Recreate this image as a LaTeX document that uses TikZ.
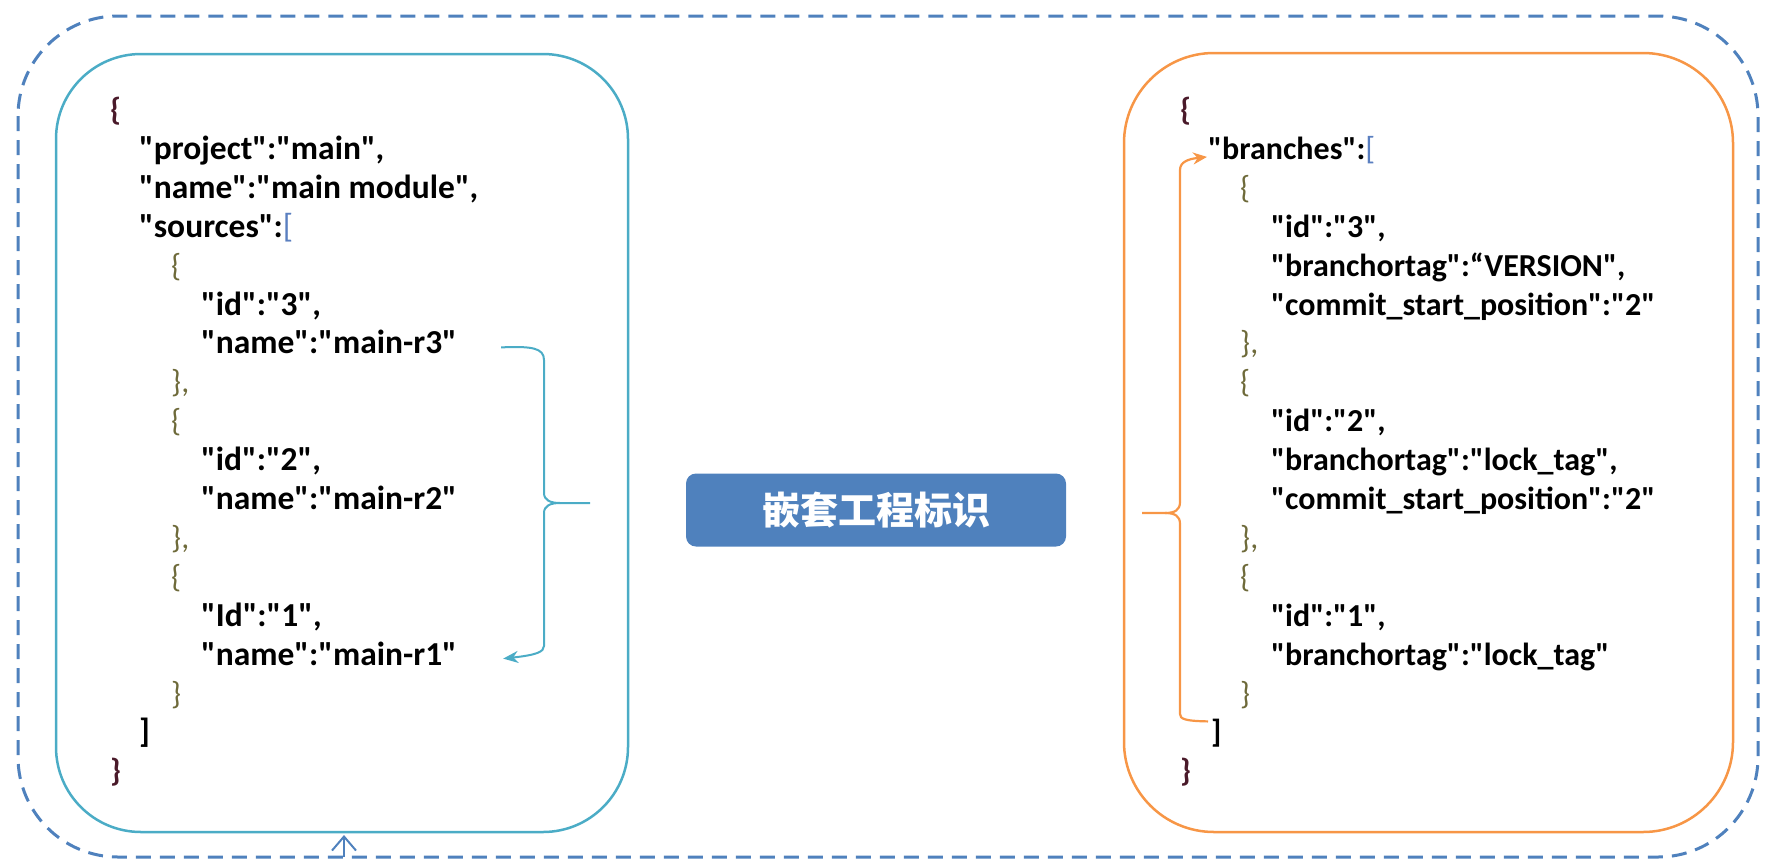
\documentclass[tikz,border=0pt]{standalone}
\usepackage{fontspec}
\setmainfont{Carlito}[Ligatures=TeXOff]
\newfontfamily\cjk{Noto Sans CJK SC}
\usetikzlibrary{arrows.meta,calc}
\definecolor{outerblue}{HTML}{4F81BD}
\definecolor{tealc}{HTML}{4BACC6}
\definecolor{orangec}{HTML}{F79646}
\definecolor{bracec}{HTML}{6E6A3A}
\definecolor{darkbr}{HTML}{4A1A2A}
\definecolor{thinblue}{HTML}{5A7FC0}
\begin{document}
\begin{tikzpicture}[x=1pt,y=-1pt,
  json/.style={anchor=west,inner sep=0pt,font=\fontsize{32}{38}\selectfont\bfseries,text height=22pt,text depth=7pt},
  ljson/.style={json,font=\fontsize{33.5}{38}\selectfont\bfseries},
  brc/.style={anchor=west,inner sep=0pt,font=\fontsize{32}{38}\selectfont,text height=22pt,text depth=7pt,text=bracec},
  topbrc/.style={anchor=west,inner sep=0pt,font=\fontsize{32}{38}\selectfont\bfseries,text height=22pt,text depth=7pt,text=darkbr},
  outerframe/.style={draw=outerblue,line width=3pt,dash pattern=on 15pt off 9pt},
  tealbox/.style={draw=tealc,line width=2.5pt,rounded corners=85pt},
  orangebox/.style={draw=orangec,line width=2.5pt,rounded corners=90pt},
  tealline/.style={draw=tealc,line width=2pt},
  orangeline/.style={draw=orangec,line width=2.2pt},
  centerbox/.style={fill=outerblue,rounded corners=10pt,minimum width=380pt,minimum height=73pt,text=white,font=\cjk\bfseries\fontsize{38}{40}\selectfont,inner sep=0pt}
]
\useasboundingbox (0,0) rectangle (1767,860);
\draw[outerframe,rounded corners=100pt] (18,16) rectangle (1758,857);
\draw[tealbox] (56,54) rectangle (628,832);
\draw[orangebox] (1124,53) rectangle (1733,832);

\node[centerbox] (ctr) at (876,510) {嵌套工程标识};

% left JSON
\node[topbrc] (la0) at (110,113) {\{};
\node[ljson] (la1) at (139,151.9) {"project":"main",};
\node[ljson] (la2) at (139,190.8) {"name":"main module",};
\node[ljson] (la3) at (139,229.7) {"sources":{\mdseries\color{thinblue}[}};
\node[brc] (la4) at (171,268.6) {\{};
\node[ljson] (la5) at (201,307.5) {"id":"3",};
\node[ljson] (r3) at (201,346.4) {"name":"main-r3"};
\node[brc] (la7) at (171,385.3) {\},};
\node[brc] (la8) at (171,424.2) {\{};
\node[ljson] (la9) at (201,463.1) {"id":"2",};
\node[ljson] (r2) at (201,502) {"name":"main-r2"};
\node[brc] (la11) at (171,540.9) {\},};
\node[brc] (la12) at (171,579.8) {\{};
\node[ljson] (la13) at (201,618.7) {"Id":"1",};
\node[ljson] (r1) at (201,657.6) {"name":"main-r1"};
\node[brc] (la15) at (171,696.5) {\}};
\node[ljson] (la16) at (139,735.4) {]};
\node[topbrc] (la17) at (110,774.3) {\}};

% right JSON
\node[topbrc] (ra0) at (1180,113) {\{};
\node[json] (br) at (1208,151.9) {"branches":{\mdseries\color{thinblue}[}};
\node[brc] (ra2) at (1240,190.8) {\{};
\node[json] (ra3) at (1271,229.7) {"id":"3",};
\node[json] (ra4) at (1271,268.6) {"branchortag":“VERSION",};
\node[json] (ra5) at (1271,307.5) {"commit\_start\_position":"2"};
\node[brc] (ra6) at (1240,346.4) {\},};
\node[brc] (ra7) at (1240,385.3) {\{};
\node[json] (ra8) at (1271,424.2) {"id":"2",};
\node[json] (ra9) at (1271,463.1) {"branchortag":"lock\_tag",};
\node[json] (ra10) at (1271,502) {"commit\_start\_position":"2"};
\node[brc] (ra11) at (1240,540.9) {\},};
\node[brc] (ra12) at (1240,579.8) {\{};
\node[json] (ra13) at (1271,618.7) {"id":"1",};
\node[json] (ra14) at (1271,657.6) {"branchortag":"lock\_tag"};
\node[brc] (ra15) at (1240,696.5) {\}};
\node[json] (ra16) at (1211,735.4) {]};
\node[topbrc] (ra17) at (1180,774.3) {\}};

% teal brace connector
\coordinate (ttip) at (590,503);
\draw[tealline] ([xshift=44pt,yshift=-1pt]r3.east) .. controls (532,346) and (544,348) .. (544,360) -- (544,493) .. controls (544,500) and (550,503) .. (560,503) -- (ttip);
\draw[tealline,-{Stealth[length=15pt,width=12pt]}] (560,503) .. controls (550,503) and (544,506) .. (544,513) -- (544,646) .. controls (544,652) and (536,655) .. ([xshift=46pt,yshift=-1pt]r1.east);

% orange brace connector
\coordinate (otip) at (1142,513);
\draw[orangeline,-{Stealth[length=14pt,width=12pt]}] (otip) -- (1165,513) .. controls (1175,513) and (1180,510) .. (1180,502) -- (1180,170) .. controls (1180,162) and (1188,159) .. ([xshift=-1pt,yshift=-5pt]br.west);
\draw[orangeline] (1165,513) .. controls (1175,513) and (1180,516) .. (1180,524) -- (1180,714) .. controls (1180,719) and (1185,721) .. ([xshift=-3pt,yshift=14pt]ra16.west);

% small arrow from outer frame
\coordinate (fb) at (344,857);
\draw[draw=outerblue,line width=2pt,-{Straight Barb[length=14pt,width=24pt]}] (fb) -- (344,835);
\end{tikzpicture}
\end{document}
